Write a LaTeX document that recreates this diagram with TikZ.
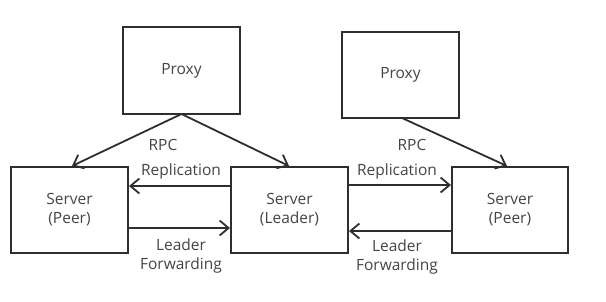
\documentclass[tikz,border=0pt]{standalone}
\usepackage{fontspec}
\setmainfont{Open Sans}
\usetikzlibrary{arrows.meta}
\definecolor{ln}{HTML}{2E2E2E}
\definecolor{tx}{HTML}{444444}
\begin{document}
\begin{tikzpicture}[x=1pt,y=-1pt,
  box/.style={draw=ln,line width=2pt,fill=white,text=tx,align=center,font=\fontsize{15.5}{19}\selectfont},
  conn/.style={draw=ln,line width=1.8pt,-{Straight Barb[length=9pt,width=15pt,line width=1.8pt]}},
  lab/.style={text=tx,align=center,font=\fontsize{15.5}{19}\selectfont}]
\useasboundingbox (0,0) rectangle (606,301);
\node[box,minimum width=117pt,minimum height=87pt] (p1) at (181.5,70.5) {Proxy};
\node[box,minimum width=117pt,minimum height=86pt] (p2) at (400.5,75) {Proxy};
\node[box,minimum width=117pt,minimum height=86pt] (s1) at (69.5,210) {Server\\(Peer)};
\node[box,minimum width=117pt,minimum height=86pt] (s2) at (289.5,210) {Server\\(Leader)};
\node[box,minimum width=116pt,minimum height=86pt] (s3) at (510,210) {Server\\(Peer)};
\coordinate (p1b) at (181.5,114);
\coordinate (p2b) at (402,118);
\draw[conn] (p1b) -- (72,166);
\draw[conn] (p1b) -- (289,166);
\draw[conn] (p2b) -- (507,166);
\draw[conn] (s2.west |- 0,186) -- (s1.east |- 0,186);
\draw[conn] (s1.east |- 0,228) -- (s2.west |- 0,228);
\draw[conn] (s2.east |- 0,185) -- (s3.west |- 0,185);
\draw[conn] (s3.west |- 0,231) -- (s2.east |- 0,231);
\node[lab] (r1) at (163,145) {RPC};
\node[lab] (r2) at (412,145) {RPC};
\node[lab] (rep1) at (181,171) {Replication};
\node[lab] (rep2) at (397,171) {Replication};
\node[lab] (lf1) at (181,256) {Leader\\Forwarding};
\node[lab] (lf2) at (397,257) {Leader\\Forwarding};
\end{tikzpicture}
\end{document}
